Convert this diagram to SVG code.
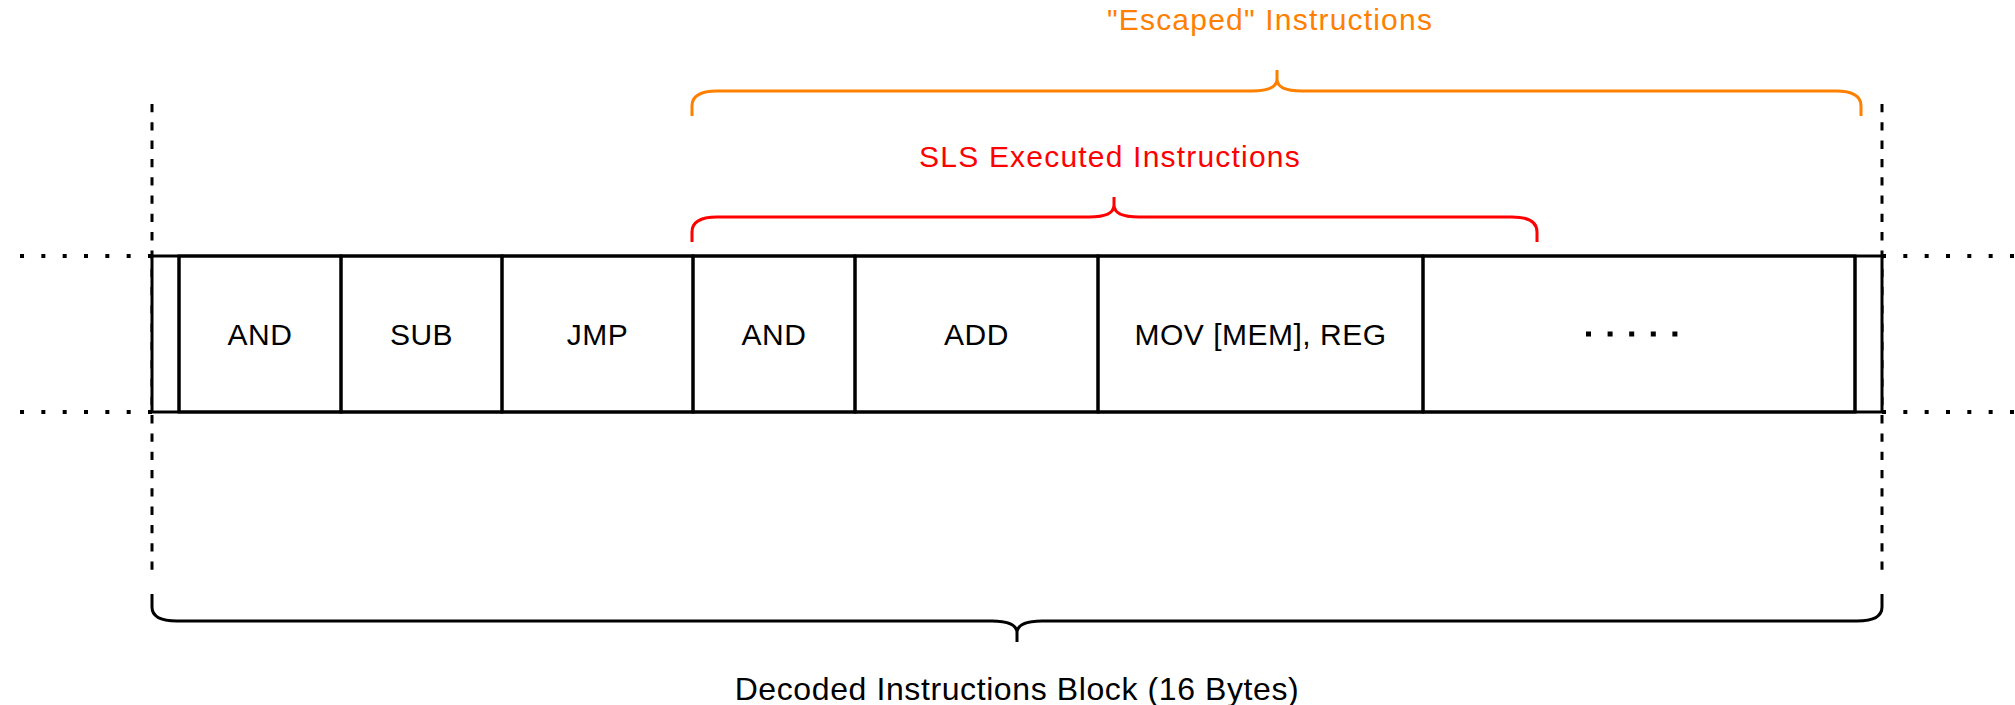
<svg xmlns="http://www.w3.org/2000/svg" width="2015" height="705" viewBox="0 0 2015 705">
<style>
.lbl{font-family:"Liberation Sans",Arial,sans-serif;font-size:30px;letter-spacing:0.5px;fill:#000;text-anchor:middle}
.cap{font-family:"Liberation Sans",Arial,sans-serif;font-size:30px;letter-spacing:1.2px;text-anchor:middle}
.cell{fill:none;stroke:#000;stroke-width:3}
.dot{fill:none;stroke:#000;stroke-width:4;stroke-dasharray:4 17.33}
.dash{fill:none;stroke:#000;stroke-width:3;stroke-dasharray:8.3 10}
.brace{fill:none;stroke-width:3;stroke-linecap:butt}
</style>
<rect width="2015" height="705" fill="#fff"/>
<g id="guides">
  <path class="dash" d="M152,104 V570"/>
  <path class="dash" d="M1882,104 V570"/>
  <path class="dot" d="M152,256 H17"/>
  <path class="dot" d="M152,412 H17"/>
  <path class="dot" d="M1882,256 H2015"/>
  <path class="dot" d="M1882,412 H2015"/>
</g>
<g id="block">
  <rect x="152" y="256" width="1730" height="156" fill="#fff" stroke="#000" stroke-width="3"/>
  <line x1="179" y1="256" x2="179" y2="412" stroke="#000" stroke-width="3"/>
  <line x1="1855" y1="256" x2="1855" y2="412" stroke="#000" stroke-width="3"/>
</g>
<g id="cell-and1"><rect class="cell" x="179" y="256" width="162" height="156"/><text class="lbl" x="260" y="345">AND</text></g>
<g id="cell-sub"><rect class="cell" x="341" y="256" width="161" height="156"/><text class="lbl" x="421.5" y="345">SUB</text></g>
<g id="cell-jmp"><rect class="cell" x="502" y="256" width="191" height="156"/><text class="lbl" x="597.5" y="345">JMP</text></g>
<g id="cell-and2"><rect class="cell" x="693" y="256" width="162" height="156"/><text class="lbl" x="774" y="345">AND</text></g>
<g id="cell-add"><rect class="cell" x="855" y="256" width="243" height="156"/><text class="lbl" x="976.5" y="345">ADD</text></g>
<g id="cell-mov"><rect class="cell" x="1098" y="256" width="325" height="156"/><text class="lbl" x="1260.5" y="345">MOV [MEM], REG</text></g>
<g id="cell-more"><rect class="cell" x="1423" y="256" width="432" height="156"/><path d="M1586,334 H1678" fill="none" stroke="#000" stroke-width="5" stroke-dasharray="5 16.6"/></g>
<g id="connectors">
  <path class="brace" stroke="#FF8000" d="M692,116 V106 Q692,91 717,91 H1252 Q1277,91 1277,79 V70 M1277,79 Q1277,91 1302,91 H1836 Q1861,91 1861,106 V116"/>
  <path class="brace" stroke="#FF0000" d="M692,242 V232 Q692,217 717,217 H1089 Q1114,217 1114,205 V197 M1114,205 Q1114,217 1139,217 H1512 Q1537,217 1537,232 V242"/>
  <path class="brace" stroke="#000" d="M152,594 V607 Q152,621 177,621 H992 Q1017,621 1017,633 V642 M1017,633 Q1017,621 1042,621 H1857 Q1882,621 1882,607 V594"/>
</g>
<g id="label-escaped"><text class="cap" fill="#FF8000" x="1270" y="30">"Escaped" Instructions</text></g>
<g id="label-sls"><text class="cap" fill="#FF0000" x="1110" y="167">SLS Executed Instructions</text></g>
<g id="label-block"><text class="lbl" style="font-size:32px;letter-spacing:0.6px" x="1017" y="700">Decoded Instructions Block (16 Bytes)</text></g>
</svg>
